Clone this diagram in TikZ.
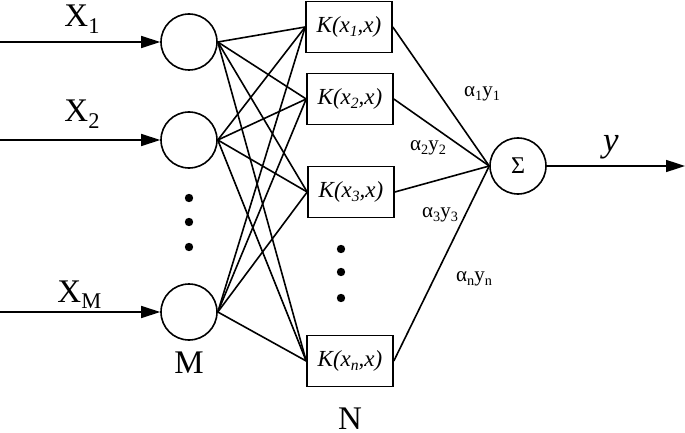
\documentclass[tikz,border=0pt]{standalone}
\usepackage{fontspec}
\setmainfont{Liberation Serif}
\usetikzlibrary{arrows.meta,positioning}
\tikzstyle{kernel net}=[
    x=0.5pt,y=-0.5pt,line width=0.8pt,
    >={Triangle[length=9.5pt,width=6pt]},
    inputnode/.style={circle,draw,minimum size=28pt,inner sep=0pt},
    sumnode/.style={circle,draw,minimum size=28pt,inner sep=0pt,
        font=\fontsize{12}{14}\selectfont},
    kernel/.style={draw,rectangle,minimum width=43pt,minimum height=25.5pt,
        inner sep=0pt,font=\fontsize{11.5}{13}\selectfont\itshape},
    biglabel/.style={font=\fontsize{16.5}{18}\selectfont},
    weightlabel/.style={font=\fontsize{10.5}{12}\selectfont},
]
\newcommand{\sub}[1]{\raisebox{-0.4ex}{\scalebox{0.68}{#1}}}

\begin{document}
\begin{tikzpicture}[kernel net]
        \useasboundingbox (0,0) rectangle (685,433);
        % input layer
        \node[inputnode] (c1) at (189,42) {};
        \node[inputnode] (c2) at (189,140) {};
        \node[inputnode] (cM) at (189,312) {};
        \node[biglabel, below=2pt of cM] (M) {M};
        \foreach \y in {198,222,247}
            \fill (189,\y) circle (2.1pt);

        % kernel layer
        \node[kernel] (k1) at (349,27) {K(x\sub{1},x)};
        \node[kernel] (k2) at (350,99) {K(x\sub{2},x)};
        \node[kernel] (k3) at (351,192) {K(x\sub{3},x)};
        \node[kernel] (kn) at (350,361) {K(x\sub{n},x)};
        \node[biglabel, below=6.5pt of kn] (N) {N};
        \foreach \y in {249,272,298}
            \fill (341,\y) circle (2.1pt);

        % output
        \node[sumnode] (sum) at (518,166) {Σ};
        \coordinate (out) at (685,166);

        % inputs
        \foreach \i/\y in {1/42, 2/140, M/312}
            \coordinate (in\i) at (0,\y);
        \node[biglabel, anchor=base west] (x1) at (57,27) {X\sub{1}};
        \node[biglabel, anchor=base west] (x2) at (57,122) {X\sub{2}};
        \node[biglabel, anchor=base west] (xM) at (50,302) {X\sub{M}};
        \foreach \i in {1,2,M}
            \draw[->] (in\i) -- (c\i);

        % full connection
        \foreach \i in {1,2,M}
            \foreach \k in {1,2,3,n}
                \draw (c\i.east) -- (k\k.west);

        \foreach \k in {1,2,3,n}
            \draw (k\k.east) -- (sum.west);
        \draw[->] (sum) -- (out);

        % weights
        \node[weightlabel] (w1) at (482,94) {α\sub{1}y\sub{1}};
        \node[weightlabel] (w2) at (428,148) {α\sub{2}y\sub{2}};
        \node[weightlabel] (w3) at (440,215) {α\sub{3}y\sub{3}};
        \node[weightlabel] (wn) at (474,279) {α\sub{n}y\sub{n}};
        \node[font=\fontsize{17.5}{19}\selectfont\itshape] (y) at (611,147) {y};
\end{tikzpicture}
\end{document}
